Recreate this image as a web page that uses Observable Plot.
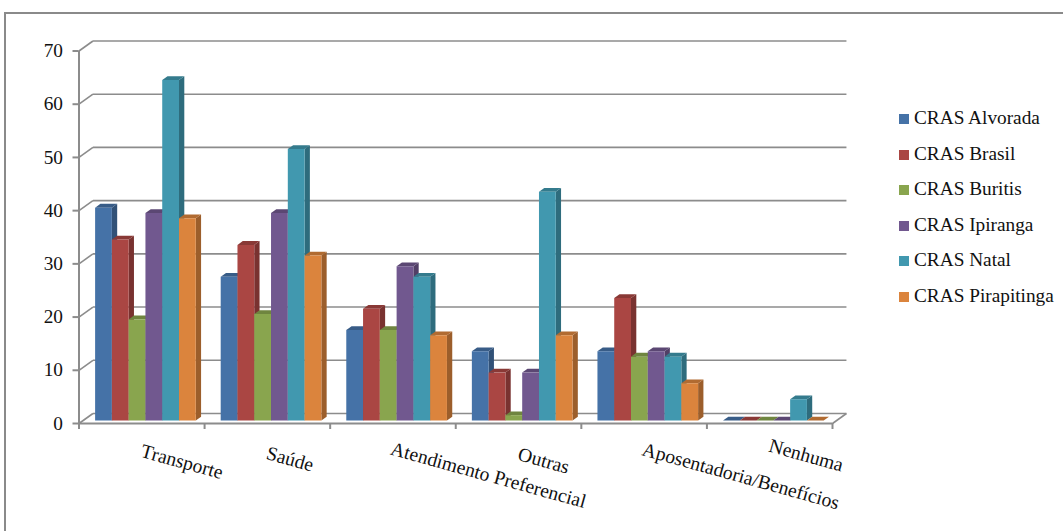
<!DOCTYPE html>
<html>
<head>
<meta charset="utf-8">
<script src="https://cdn.jsdelivr.net/npm/d3@7"></script>
<script src="https://cdn.jsdelivr.net/npm/@observablehq/plot@0.6"></script>
<style>
  html, body { margin: 0; padding: 0; background: #fff; }
  #chart { position: relative; width: 1063px; height: 531px; overflow: hidden; }
  #chart svg { display: block; }
  #frame { position: absolute; left: 4px; top: 12px; width: 1070px; height: 530px; border: 2px solid #8a8a8a; box-sizing: border-box; }
  #legend { position: absolute; left: 899px; top: 100px; font: 19.3px "Liberation Serif", serif; color: #111; }
  #legend div { height: 35.5px; line-height: 36px; white-space: nowrap; }
  #legend i { display: inline-block; width: 10px; height: 10px; margin-right: 5px; }
</style>
</head>
<body>
<div id="chart"><div id="frame"></div><div id="legend"></div></div>
<script>
const categories = ["Transporte", "Saúde", "Atendimento Preferencial", "Outras", "Aposentadoria/Benefícios", "Nenhuma"];
const seriesNames = ["CRAS Alvorada", "CRAS Brasil", "CRAS Buritis", "CRAS Ipiranga", "CRAS Natal", "CRAS Pirapitinga"];
const alvorada = [40, 27, 17, 13, 13, 0];
const brasil = [34, 33, 21, 9, 23, 0];
const buritis = [19, 20, 17, 1, 12, 0];
const ipiranga = [39, 39, 29, 9, 13, 0];
const natal = [64, 51, 27, 43, 12, 4];
const pirapitinga = [38, 31, 16, 16, 7, 0];
const seriesValues = [alvorada, brasil, buritis, ipiranga, natal, pirapitinga];
const seriesColors = ["#4572a7", "#aa4643", "#89a54e", "#71588f", "#4198af", "#db843d"];
const yTicks = [0, 10, 20, 30, 40, 50, 60, 70];

// Pseudo-3D projection, expressed in scale units: depth 0 is the front of the
// floor, depth 1 the back wall.
const depthX = 0.111;
const depthY = 1.88;
const project = (x, y, depth) => ({x: x + depth * depthX, y: y + depth * depthY});

const barFront = 0.3;
const barBack = 0.68;
const groupStart = 0.095;
const barWidth = 0.1336;

const polygons = [];
const face = (id, fill, points) => points.forEach((p) => polygons.push({id, fill, ...p}));
categories.forEach((_, c) => {
  seriesValues.forEach((values, s) => {
    const v = values[c];
    const x0 = c + groupStart + s * barWidth;
    const x1 = x0 + barWidth;
    const color = seriesColors[s];
    const side = d3.color(color).darker(0.95).formatHex();
    const top = d3.color(color).darker(0.6).formatHex();
    const id = `${c}-${s}`;
    face(id + "side", side, [project(x1, 0, barFront), project(x1, v, barFront), project(x1, v, barBack), project(x1, 0, barBack)]);
    face(id + "top", top, [project(x0, v, barFront), project(x1, v, barFront), project(x1, v, barBack), project(x0, v, barBack)]);
    face(id + "front", color, [project(x0, 0, barFront), project(x1, 0, barFront), project(x1, v, barFront), project(x0, v, barFront)]);
  });
});

// Back-wall gridlines with their short diagonals down the side wall.
const wall = [];
yTicks.forEach((t) => {
  const a = project(0, t, 0), b = project(0, t, 1), c = project(6, t, 1);
  wall.push({x1: a.x, y1: a.y, x2: b.x, y2: b.y}, {x1: b.x, y1: b.y, x2: c.x, y2: c.y});
});
const floorEnd = [project(6, 0, 0), project(6, 0, 1)];
wall.push({x1: floorEnd[0].x, y1: floorEnd[0].y, x2: floorEnd[1].x, y2: floorEnd[1].y});

// Slanted category labels, placed by hand along and below the axis.
const labelAlong = [0.82, 1.68, 3.26, 3.70, 5.27, 5.79];
const labelBelow = [-7.2, -6.7, -9.7, -7.0, -9.9, -6.0];
const labels = categories.map((name, i) => ({name, x: labelAlong[i], y: labelBelow[i]}));

const grey = "#8c8c8c";
const plot = Plot.plot({
  width: 1063,
  height: 531,
  marginLeft: 78.5,
  marginRight: 231,
  marginTop: 50.5,
  marginBottom: 108,
  style: {background: "transparent", fontFamily: "'Liberation Serif', serif"},
  x: {domain: [0, 6], axis: null},
  y: {domain: [0, 70], axis: null},
  color: {type: "identity"},
  marks: [
    Plot.link(wall, {x1: "x1", y1: "y1", x2: "x2", y2: "y2", stroke: grey, strokeWidth: 1.6}),
    Plot.ruleX([0], {stroke: grey, strokeWidth: 2}),
    Plot.ruleY([0], {stroke: grey, strokeWidth: 2}),
    Plot.axisY({ticks: yTicks, tickSize: 6, tickPadding: 10, fontSize: 19.3, stroke: grey, strokeWidth: 2, strokeOpacity: 1, fill: "#111", label: null}),
    Plot.axisX({ticks: d3.range(0, 7), tickSize: 6, tickFormat: () => "", stroke: grey, strokeWidth: 2, strokeOpacity: 1, label: null}),
    Plot.line(polygons, {x: "x", y: "y", z: "id", fill: "fill", stroke: "none"}),
    Plot.text(labels, {x: "x", y: "y", text: "name", rotate: 15.5, fontSize: 19.6, fill: "#111", textAnchor: "middle"})
  ]
});
document.getElementById("chart").prepend(plot);

const legend = d3.select("#legend").selectAll("div").data(seriesNames).join("div");
legend.append("i").style("background", (_, i) => seriesColors[i]);
legend.append("span").text((d) => d);
</script>
</body>
</html>
